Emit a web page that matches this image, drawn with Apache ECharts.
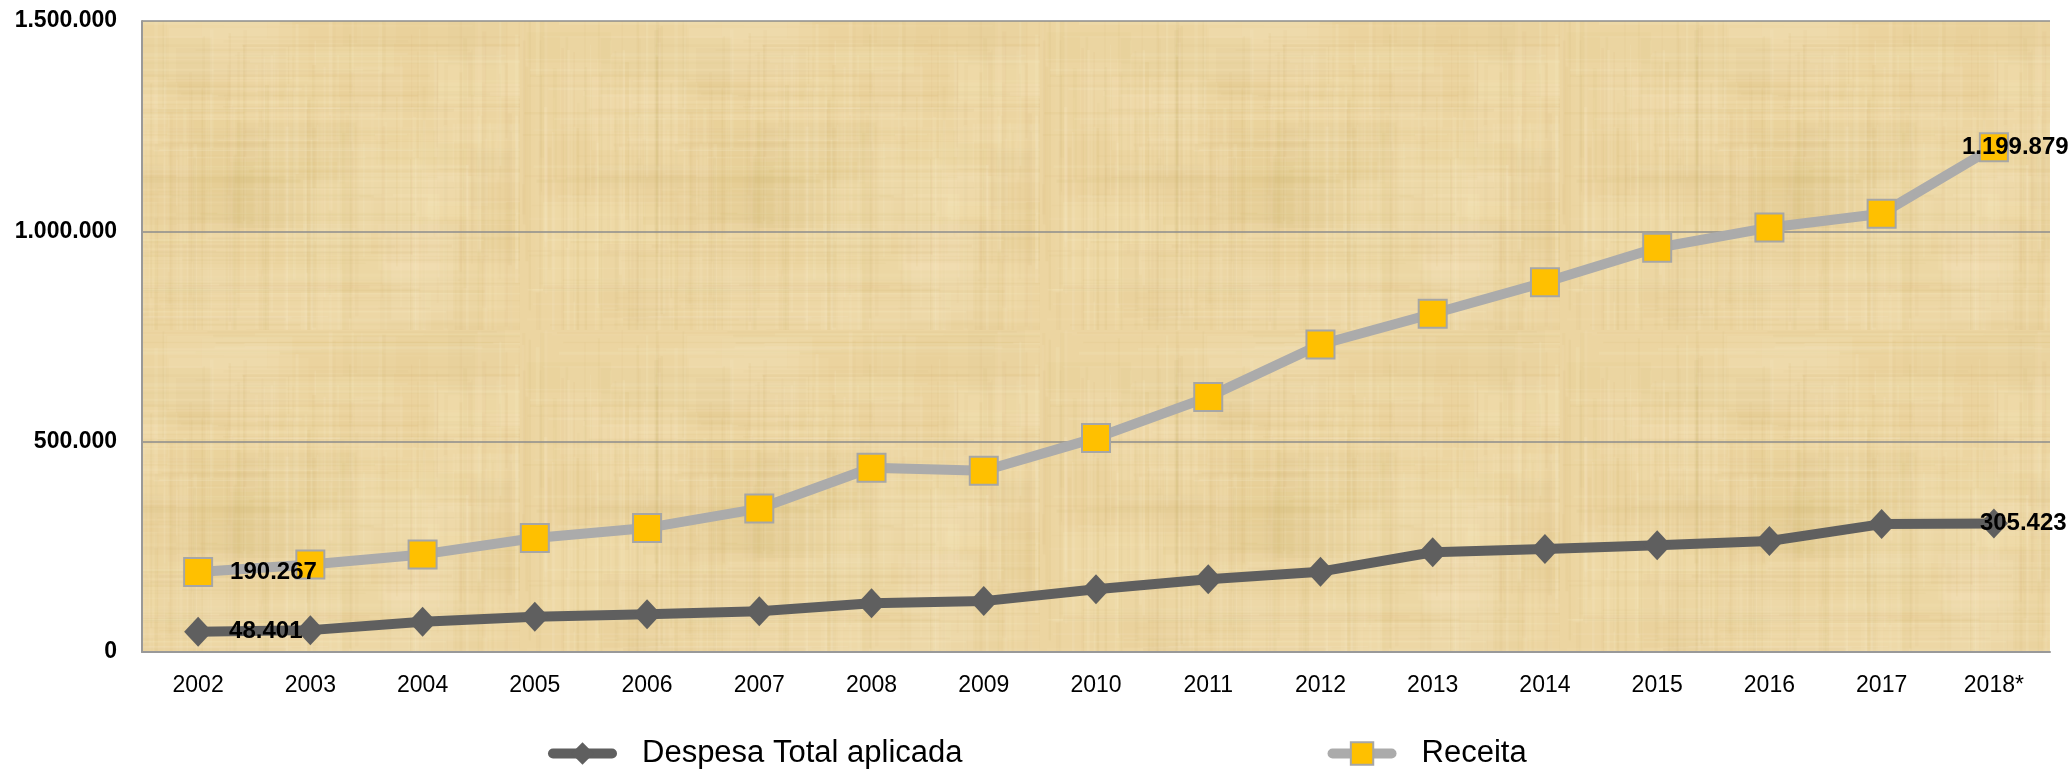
<!DOCTYPE html>
<html>
<head>
<meta charset="utf-8">
<script src="https://cdn.jsdelivr.net/npm/echarts@6/dist/echarts.min.js"></script>
<style>
html,body{margin:0;padding:0;background:#fff;}
#chart{width:2072px;height:769px;}
</style>
</head>
<body>
<div id="chart"></div>
<script>
// ---- data ----
var categories = ['2002','2003','2004','2005','2006','2007','2008','2009','2010','2011','2012','2013','2014','2015','2016','2017','2018*'];
var despesa = [48401, 52000, 72000, 84000, 89500, 97000, 116000, 121000, 149000, 173000, 191000, 237000, 245000, 254000, 264000, 304000, 305423];
var receita = [190267, 208000, 232000, 271000, 295000, 341000, 438000, 431000, 509000, 606000, 731000, 804000, 879000, 961000, 1009000, 1042000, 1199879];
var seriesNames = ['Despesa Total aplicada', 'Receita'];

function fmt(v){
  return String(Math.round(v)).replace(/\B(?=(\d{3})+(?!\d))/g, '.');
}

// papyrus-like texture (styling only, deterministic)
function makeTexture(){
  var c = document.createElement('canvas');
  c.width = 520; c.height = 330;
  var g = c.getContext('2d');
  g.fillStyle = '#ECD5A1';
  g.fillRect(0,0,c.width,c.height);
  var s = 987654;
  function rnd(){ s = (s * 1103515245 + 12345) & 0x7fffffff; return s / 0x7fffffff; }
  for (var b=0;b<60;b++){
    var bx = rnd()*c.width, by = rnd()*c.height, bw = 30+rnd()*120, bh = 20+rnd()*90;
    g.fillStyle = rnd()<0.45 ? 'rgba(210,180,105,'+(0.03+rnd()*0.05)+')' : 'rgba(248,234,195,'+(0.08+rnd()*0.10)+')';
    g.fillRect(bx,by,bw,bh);
  }
  for (var i=0;i<220;i++){
    var x = rnd()*c.width, w = 1+rnd()*3;
    g.fillStyle = rnd()<0.5 ? 'rgba(205,172,98,'+(0.03+rnd()*0.07)+')' : 'rgba(250,238,205,'+(0.06+rnd()*0.12)+')';
    var y0 = rnd()*c.height*0.5, h = c.height*(0.3+rnd()*0.7);
    g.fillRect(x,y0,w,h);
  }
  for (var j=0;j<160;j++){
    var y = rnd()*c.height, hh = 1+rnd()*2;
    g.fillStyle = rnd()<0.5 ? 'rgba(205,172,98,'+(0.03+rnd()*0.06)+')' : 'rgba(250,238,205,'+(0.05+rnd()*0.10)+')';
    var x0 = rnd()*c.width*0.5, ww = c.width*(0.3+rnd()*0.7);
    g.fillRect(x0,y,ww,hh);
  }
  return c;
}

function buildData(arr, lastOffset){
  return arr.map(function(v,i){
    var item = {value: v};
    if (i === 0){
      item.label = {show:true, position:'right', distance:17};
    } else if (i === arr.length-1){
      item.label = {show:true, position:'right', distance:0, offset:[lastOffset,0]};
    }
    return item;
  });
}

var FONT = 'Liberation Sans, Arial, sans-serif';
var labelStyle = {
  formatter: function(p){ return fmt(p.value); },
  color:'#000', fontWeight:'bold', fontSize:24, fontFamily:FONT
};

var chart = echarts.init(document.getElementById('chart'), null, {renderer:'canvas'});
var option = {
  backgroundColor:'#ffffff',
  animation:false,
  grid:{left:142, right:22, top:21, bottom:117, show:true,
        backgroundColor:{image: makeTexture(), repeat:'repeat'},
        borderWidth:0},
  legend:{
    data:seriesNames,
    left:543, top:733, itemGap:365, itemWidth:59, itemHeight:28,
    lineStyle:{width:10, cap:'round'},
    textStyle:{fontSize:31, color:'#000', fontFamily:FONT, padding:[0,0,0,25]}
  },
  xAxis:{
    type:'category', data:categories, boundaryGap:true,
    axisLine:{show:true, lineStyle:{color:'#999999', width:2}},
    axisTick:{show:false},
    axisLabel:{color:'#000', fontSize:23, margin:22, fontFamily:FONT}
  },
  yAxis:{
    type:'value', min:0, max:1500000, interval:500000,
    axisLine:{show:true, lineStyle:{color:'#999999', width:2}},
    axisTick:{show:false},
    splitLine:{show:true, lineStyle:{color:'#8c8c8c', width:1.5}},
    axisLabel:{color:'#000', fontSize:23, fontWeight:'bold', margin:25, fontFamily:FONT,
      formatter:function(v){ return fmt(v); }}
  },
  series:[
    {
      name:seriesNames[0], type:'line', data:buildData(despesa, -28),
      symbol:'diamond', symbolSize:[28,30],
      lineStyle:{color:'#5F5F5F', width:10},
      itemStyle:{color:'#5F5F5F', borderWidth:0},
      label:labelStyle, z:3
    },
    {
      name:seriesNames[1], type:'line', data:buildData(receita, -47),
      symbol:'rect', symbolSize:28,
      lineStyle:{color:'#ABABAB', width:10},
      itemStyle:{color:'#FFC000', borderColor:'#A6A6A6', borderWidth:2},
      label:labelStyle, z:4
    }
  ]
};
chart.setOption(option);
</script>
</body>
</html>
